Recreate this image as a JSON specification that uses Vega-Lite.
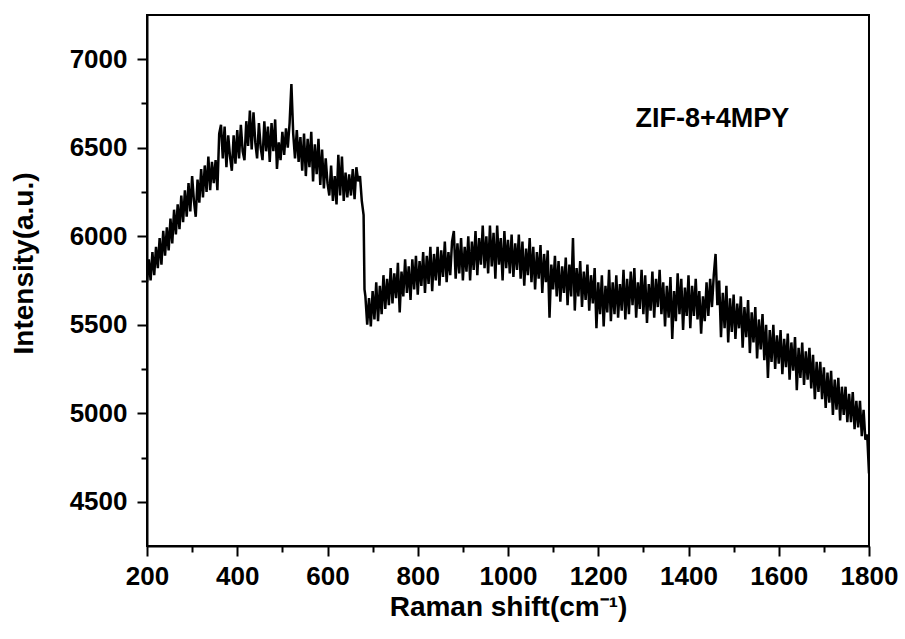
{
  "$schema": "https://vega.github.io/schema/vega-lite/v6.json",
  "width": 722,
  "height": 531,
  "autosize": {"type": "none"},
  "padding": {"left": 147, "top": 15, "right": 36, "bottom": 93},
  "background": "white",
  "config": {
    "font": "Liberation Sans",
    "view": {"stroke": "black", "strokeWidth": 2},
    "axis": {"grid": false, "domainColor": "black", "domainWidth": 2, "tickColor": "black", "tickWidth": 2, "labelColor": "black", "titleColor": "black", "labelFont": "Liberation Sans", "titleFont": "Liberation Sans", "labelFontWeight": "bold", "titleFontWeight": "bold", "labelFontSize": 26, "titleFontSize": 28}
  },
  "datasets": {
    "spec": [
      {"x":200,"y":5740},{"x":204,"y":5870},{"x":208,"y":5750},{"x":212,"y":5910},{"x":216,"y":5780},{"x":220,"y":5940},{"x":224,"y":5820},{"x":228,"y":5990},{"x":232,"y":5840},{"x":236,"y":6030},
      {"x":240,"y":5890},{"x":244,"y":6050},{"x":248,"y":5920},{"x":252,"y":6100},{"x":256,"y":5960},{"x":260,"y":6150},{"x":264,"y":6010},{"x":268,"y":6180},{"x":272,"y":6040},{"x":276,"y":6230},
      {"x":280,"y":6080},{"x":284,"y":6260},{"x":288,"y":6110},{"x":292,"y":6300},{"x":296,"y":6140},{"x":300,"y":6340},{"x":304,"y":6200},{"x":308,"y":6110},{"x":312,"y":6320},{"x":316,"y":6190},
      {"x":320,"y":6380},{"x":324,"y":6220},{"x":328,"y":6400},{"x":332,"y":6250},{"x":336,"y":6450},{"x":340,"y":6260},{"x":344,"y":6420},{"x":348,"y":6300},{"x":352,"y":6430},{"x":356,"y":6260},
      {"x":360,"y":6580},{"x":364,"y":6630},{"x":368,"y":6440},{"x":372,"y":6620},{"x":376,"y":6390},{"x":380,"y":6570},{"x":384,"y":6450},{"x":388,"y":6370},{"x":392,"y":6570},{"x":396,"y":6410},
      {"x":400,"y":6600},{"x":404,"y":6440},{"x":408,"y":6630},{"x":412,"y":6480},{"x":416,"y":6430},{"x":420,"y":6650},{"x":424,"y":6510},{"x":428,"y":6710},{"x":432,"y":6490},{"x":436,"y":6700},
      {"x":440,"y":6530},{"x":444,"y":6440},{"x":448,"y":6640},{"x":452,"y":6500},{"x":456,"y":6430},{"x":460,"y":6650},{"x":464,"y":6480},{"x":468,"y":6620},{"x":472,"y":6420},{"x":476,"y":6640},
      {"x":480,"y":6480},{"x":484,"y":6660},{"x":488,"y":6380},{"x":492,"y":6530},{"x":496,"y":6430},{"x":500,"y":6590},{"x":504,"y":6460},{"x":508,"y":6610},{"x":512,"y":6500},{"x":516,"y":6640},
      {"x":520,"y":6860},{"x":524,"y":6580},{"x":528,"y":6440},{"x":532,"y":6600},{"x":536,"y":6420},{"x":540,"y":6560},{"x":544,"y":6370},{"x":548,"y":6580},{"x":552,"y":6340},{"x":556,"y":6550},
      {"x":560,"y":6390},{"x":564,"y":6590},{"x":568,"y":6310},{"x":572,"y":6520},{"x":576,"y":6350},{"x":580,"y":6550},{"x":584,"y":6290},{"x":588,"y":6490},{"x":592,"y":6270},{"x":596,"y":6440},
      {"x":600,"y":6300},{"x":604,"y":6230},{"x":608,"y":6400},{"x":612,"y":6200},{"x":616,"y":6340},{"x":620,"y":6180},{"x":624,"y":6460},{"x":628,"y":6230},{"x":632,"y":6450},{"x":636,"y":6200},
      {"x":640,"y":6360},{"x":644,"y":6220},{"x":648,"y":6350},{"x":652,"y":6230},{"x":656,"y":6380},{"x":660,"y":6210},{"x":664,"y":6390},{"x":668,"y":6310},{"x":672,"y":6340},{"x":676,"y":6200},
      {"x":680,"y":6120},{"x":682,"y":5700},{"x":684,"y":5660},{"x":688,"y":5500},{"x":692,"y":5650},{"x":696,"y":5490},{"x":700,"y":5690},{"x":704,"y":5530},{"x":708,"y":5740},{"x":712,"y":5520},
      {"x":716,"y":5720},{"x":720,"y":5560},{"x":724,"y":5780},{"x":728,"y":5590},{"x":732,"y":5760},{"x":736,"y":5610},{"x":740,"y":5820},{"x":744,"y":5620},{"x":748,"y":5790},{"x":752,"y":5650},
      {"x":756,"y":5850},{"x":760,"y":5570},{"x":764,"y":5800},{"x":768,"y":5660},{"x":772,"y":5870},{"x":776,"y":5680},{"x":780,"y":5830},{"x":784,"y":5640},{"x":788,"y":5870},{"x":792,"y":5700},
      {"x":796,"y":5890},{"x":800,"y":5670},{"x":804,"y":5860},{"x":808,"y":5720},{"x":812,"y":5910},{"x":816,"y":5680},{"x":820,"y":5890},{"x":824,"y":5730},{"x":828,"y":5940},{"x":832,"y":5690},
      {"x":836,"y":5900},{"x":840,"y":5750},{"x":844,"y":5940},{"x":848,"y":5720},{"x":852,"y":5920},{"x":856,"y":5770},{"x":860,"y":5970},{"x":864,"y":5740},{"x":868,"y":5910},{"x":872,"y":5780},
      {"x":876,"y":5970},{"x":880,"y":6030},{"x":884,"y":5760},{"x":888,"y":5960},{"x":892,"y":5790},{"x":896,"y":5990},{"x":900,"y":5750},{"x":904,"y":5940},{"x":908,"y":5800},{"x":912,"y":6000},
      {"x":916,"y":5750},{"x":920,"y":5970},{"x":924,"y":5810},{"x":928,"y":6030},{"x":932,"y":5780},{"x":936,"y":5990},{"x":940,"y":5840},{"x":944,"y":6060},{"x":948,"y":5820},{"x":952,"y":6000},
      {"x":956,"y":5790},{"x":960,"y":6060},{"x":964,"y":5830},{"x":968,"y":6020},{"x":972,"y":5760},{"x":976,"y":6060},{"x":980,"y":5840},{"x":984,"y":5990},{"x":988,"y":5750},{"x":992,"y":6030},
      {"x":996,"y":5820},{"x":1000,"y":5980},{"x":1004,"y":5790},{"x":1008,"y":6010},{"x":1012,"y":5770},{"x":1016,"y":5960},{"x":1020,"y":5810},{"x":1024,"y":6010},{"x":1028,"y":5760},{"x":1032,"y":5970},
      {"x":1036,"y":5720},{"x":1040,"y":5930},{"x":1044,"y":5780},{"x":1048,"y":5990},{"x":1052,"y":5740},{"x":1056,"y":5940},{"x":1060,"y":5700},{"x":1064,"y":5910},{"x":1068,"y":5760},{"x":1072,"y":5950},
      {"x":1076,"y":5680},{"x":1080,"y":5900},{"x":1084,"y":5740},{"x":1088,"y":5920},{"x":1092,"y":5540},{"x":1096,"y":5840},{"x":1100,"y":5700},{"x":1104,"y":5890},{"x":1108,"y":5660},{"x":1112,"y":5860},
      {"x":1116,"y":5630},{"x":1120,"y":5830},{"x":1124,"y":5680},{"x":1128,"y":5880},{"x":1132,"y":5610},{"x":1136,"y":5840},{"x":1140,"y":5660},{"x":1144,"y":5990},{"x":1148,"y":5580},{"x":1152,"y":5820},
      {"x":1156,"y":5660},{"x":1160,"y":5860},{"x":1164,"y":5600},{"x":1168,"y":5800},{"x":1172,"y":5640},{"x":1176,"y":5840},{"x":1180,"y":5580},{"x":1184,"y":5780},{"x":1188,"y":5620},{"x":1192,"y":5820},
      {"x":1196,"y":5480},{"x":1200,"y":5740},{"x":1204,"y":5560},{"x":1208,"y":5780},{"x":1212,"y":5490},{"x":1216,"y":5720},{"x":1220,"y":5570},{"x":1224,"y":5810},{"x":1228,"y":5520},{"x":1232,"y":5740},
      {"x":1236,"y":5560},{"x":1240,"y":5780},{"x":1244,"y":5540},{"x":1248,"y":5730},{"x":1252,"y":5580},{"x":1256,"y":5810},{"x":1260,"y":5530},{"x":1264,"y":5760},{"x":1268,"y":5560},{"x":1272,"y":5800},
      {"x":1276,"y":5610},{"x":1280,"y":5820},{"x":1284,"y":5540},{"x":1288,"y":5740},{"x":1292,"y":5590},{"x":1296,"y":5810},{"x":1300,"y":5560},{"x":1304,"y":5780},{"x":1308,"y":5510},{"x":1312,"y":5730},
      {"x":1316,"y":5580},{"x":1320,"y":5800},{"x":1324,"y":5540},{"x":1328,"y":5760},{"x":1332,"y":5600},{"x":1336,"y":5810},{"x":1340,"y":5560},{"x":1344,"y":5740},{"x":1348,"y":5490},{"x":1352,"y":5720},
      {"x":1356,"y":5540},{"x":1360,"y":5770},{"x":1364,"y":5420},{"x":1368,"y":5690},{"x":1372,"y":5520},{"x":1376,"y":5790},{"x":1380,"y":5560},{"x":1384,"y":5760},{"x":1388,"y":5470},{"x":1392,"y":5710},
      {"x":1396,"y":5550},{"x":1400,"y":5780},{"x":1404,"y":5480},{"x":1408,"y":5720},{"x":1412,"y":5550},{"x":1416,"y":5760},{"x":1420,"y":5530},{"x":1424,"y":5690},{"x":1428,"y":5450},{"x":1432,"y":5660},
      {"x":1436,"y":5520},{"x":1440,"y":5740},{"x":1444,"y":5550},{"x":1448,"y":5760},{"x":1452,"y":5600},{"x":1456,"y":5780},{"x":1460,"y":5900},{"x":1464,"y":5610},{"x":1468,"y":5750},{"x":1472,"y":5430},
      {"x":1476,"y":5680},{"x":1480,"y":5480},{"x":1484,"y":5720},{"x":1488,"y":5400},{"x":1492,"y":5650},{"x":1496,"y":5460},{"x":1500,"y":5670},{"x":1504,"y":5420},{"x":1508,"y":5620},{"x":1512,"y":5480},
      {"x":1516,"y":5660},{"x":1520,"y":5370},{"x":1524,"y":5600},{"x":1528,"y":5430},{"x":1532,"y":5640},{"x":1536,"y":5340},{"x":1540,"y":5570},{"x":1544,"y":5400},{"x":1548,"y":5600},{"x":1552,"y":5310},
      {"x":1556,"y":5530},{"x":1560,"y":5360},{"x":1564,"y":5560},{"x":1568,"y":5300},{"x":1572,"y":5500},{"x":1576,"y":5200},{"x":1580,"y":5470},{"x":1584,"y":5290},{"x":1588,"y":5500},{"x":1592,"y":5250},
      {"x":1596,"y":5440},{"x":1600,"y":5280},{"x":1604,"y":5470},{"x":1608,"y":5220},{"x":1612,"y":5420},{"x":1616,"y":5260},{"x":1620,"y":5450},{"x":1624,"y":5190},{"x":1628,"y":5400},{"x":1632,"y":5240},
      {"x":1636,"y":5430},{"x":1640,"y":5130},{"x":1644,"y":5370},{"x":1648,"y":5200},{"x":1652,"y":5400},{"x":1656,"y":5160},{"x":1660,"y":5350},{"x":1664,"y":5190},{"x":1668,"y":5370},{"x":1672,"y":5140},
      {"x":1676,"y":5330},{"x":1680,"y":5080},{"x":1684,"y":5290},{"x":1688,"y":5120},{"x":1692,"y":5290},{"x":1696,"y":5080},{"x":1700,"y":5260},{"x":1704,"y":5030},{"x":1708,"y":5230},{"x":1712,"y":5060},
      {"x":1716,"y":5240},{"x":1720,"y":4990},{"x":1724,"y":5190},{"x":1728,"y":5020},{"x":1732,"y":5200},{"x":1736,"y":4960},{"x":1740,"y":5150},{"x":1744,"y":4990},{"x":1748,"y":5150},{"x":1752,"y":4950},
      {"x":1756,"y":5110},{"x":1760,"y":4950},{"x":1764,"y":5120},{"x":1768,"y":4910},{"x":1772,"y":5070},{"x":1776,"y":4920},{"x":1780,"y":5070},{"x":1784,"y":4870},{"x":1788,"y":5020},{"x":1792,"y":4850},
      {"x":1796,"y":4880},{"x":1800,"y":4660}
    ],
    "label": [{"x": 1453, "y": 6664, "text": "ZIF-8+4MPY"}]
  },
  "layer": [
    {
      "data": {"name": "spec"},
      "mark": {"type": "line", "color": "black", "strokeWidth": 2.5, "strokeJoin": "miter", "clip": true},
      "encoding": {
        "x": {
          "field": "x", "type": "quantitative",
          "scale": {"domain": [200, 1800], "nice": false, "zero": false},
          "axis": {
            "title": "Raman shift(cm⁻¹)",
            "values": [200,300,400,500,600,700,800,900,1000,1100,1200,1300,1400,1500,1600,1700,1800],
            "format": "d",
            "labelExpr": "datum.value % 200 == 0 ? datum.label : ''",
            "labelOverlap": false,
            "labelFlush": false,
            "tickSize": {"condition": {"test": "datum.value % 200 != 0", "value": 6}, "value": 10},
            "labelPadding": 7,
            "titlePadding": 4
          }
        },
        "y": {
          "field": "y", "type": "quantitative",
          "scale": {"domain": [4250, 7250], "nice": false, "zero": false},
          "axis": {
            "title": "Intensity(a.u.)",
            "values": [4500,4750,5000,5250,5500,5750,6000,6250,6500,6750,7000],
            "format": "d",
            "labelExpr": "datum.value % 500 == 0 ? datum.label : ''",
            "labelOverlap": false,
            "labelFlush": false,
            "tickSize": {"condition": {"test": "datum.value % 500 != 0", "value": 6}, "value": 10},
            "labelPadding": 10,
            "titlePadding": 31,
            "titleY": 248
          }
        }
      }
    },
    {
      "data": {"name": "label"},
      "mark": {"type": "text", "fontSize": 27, "fontWeight": "bold", "font": "Liberation Sans", "color": "black", "align": "center", "baseline": "middle"},
      "encoding": {
        "x": {"field": "x", "type": "quantitative"},
        "y": {"field": "y", "type": "quantitative"},
        "text": {"field": "text"}
      }
    }
  ]
}
